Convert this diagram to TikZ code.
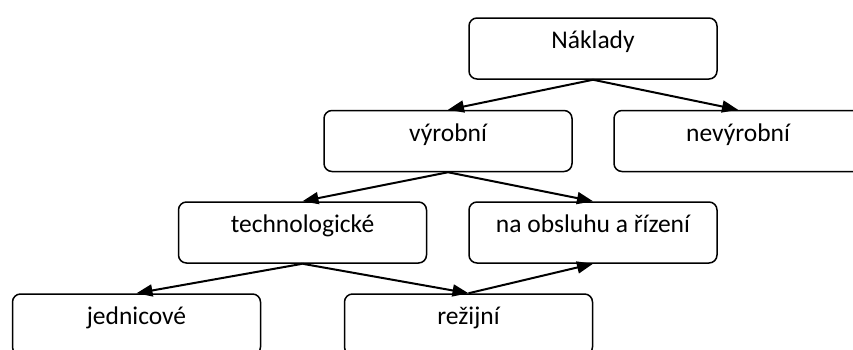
\documentclass[tikz,border=0pt]{standalone}
\usepackage{fontspec}
\setmainfont{Carlito}
\usepackage{tikz}
\usetikzlibrary{arrows.meta, positioning}

\begin{document}
\begin{tikzpicture}[x=1pt, y=-1pt,
    costbox/.style={draw, rounded corners=8pt, line width=1.5pt, minimum width=248pt,
        minimum height=61pt, inner sep=0pt, text height=11pt, text depth=11pt,
        font=\fontsize{25.5}{30}\selectfont},
    arr/.style={-{Triangle[length=16pt,width=12pt]}, line width=2pt}]
    \path[use as bounding box, clip] (0,0) rectangle (853,349);

    % top level
    \node[costbox] (naklady) at (593,48.5) {Náklady};

    % second level
    \node[costbox] (vyrobni) at (448,141) {výrobní};
    \node[costbox] (nevyrobni) at (738,141) {nevýrobní};

    % third level
    \node[costbox] (technol) at (302.5,232.5) {technologické};
    \node[costbox] (obsluha) at (593,232.5) {na obsluhu a řízení};

    % bottom level
    \node[costbox] (jednicove) at (136.5,324.5) {jednicové};
    \node[costbox] (rezijni) at (468.5,324.5) {režijní};

    % arrows
    \draw[arr] (naklady.south) -- (vyrobni.north);
    \draw[arr] (naklady.south) -- (nevyrobni.north);
    \draw[arr] (vyrobni.south) -- (technol.north);
    \draw[arr] (vyrobni.south) -- (obsluha.north);
    \draw[arr] (technol.south) -- (jednicove.north);
    \draw[arr] (technol.south) -- (rezijni.north);
    \draw[arr] (rezijni.north) -- (obsluha.south);
\end{tikzpicture}
\end{document}
